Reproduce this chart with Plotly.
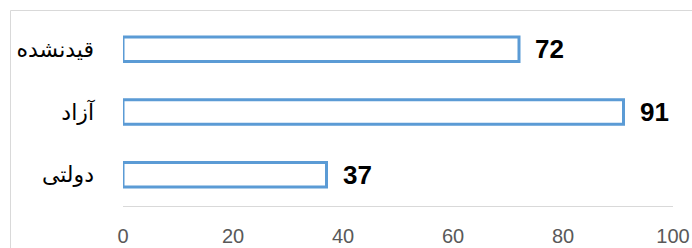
import plotly.graph_objects as go

categories = ["دولتی", "آزاد", "قیدنشده"]
values = [37, 91, 72]
tick_vals = [0, 20, 40, 60, 80, 100]

W, H = 692, 248
L, R, T, B = 123, 19, 18, 42
pw, ph = W - L - R, H - T - B

fig = go.Figure(
    go.Bar(
        x=values,
        y=categories,
        orientation="h",
        width=0.39,
        marker=dict(color="white", line=dict(color="#5B9BD5", width=3)),
        hoverinfo="skip",
    )
)

for v, c in zip(values, categories):
    fig.add_annotation(
        x=v, y=c, text=str(v), showarrow=False, xanchor="left", yanchor="middle",
        xshift=14, font=dict(family="Liberation Sans", size=26, color="#000000", weight="bold"),
    )

# chart-area border
fig.add_shape(
    type="rect", xref="paper", yref="paper",
    x0=(10.5 - L) / pw, x1=(720 - L) / pw,
    y0=-(280 - (T + ph)) / ph, y1=1 + (T - 10.5) / ph,
    line=dict(color="#d9d9d9", width=1), fillcolor="rgba(0,0,0,0)", layer="below",
)

fig.update_layout(
    width=W, height=H,
    margin=dict(l=L, r=R, t=T, b=B, pad=0, autoexpand=False),
    paper_bgcolor="white", plot_bgcolor="white",
    showlegend=False,
    xaxis=dict(
        range=[0, 100], tickvals=tick_vals, showgrid=False, zeroline=False,
        showline=True, linecolor="#d9d9d9", linewidth=1, ticks="",
        tickfont=dict(family="Liberation Sans", size=20, color="#595959"),
        ticklabelstandoff=12, fixedrange=True, automargin=False,
    ),
    yaxis=dict(
        showgrid=False, zeroline=False, showline=False, ticks="",
        tickfont=dict(family="DejaVu Sans", size=22, color="#000000"),
        ticklabelstandoff=28, range=[-0.5, 2.5], fixedrange=True, automargin=False,
    ),
)

fig.write_html(
    "out.html",
    config={"displayModeBar": False, "staticPlot": True},
    post_script="document.body.style.margin='0';document.body.style.overflow='hidden';",
)
